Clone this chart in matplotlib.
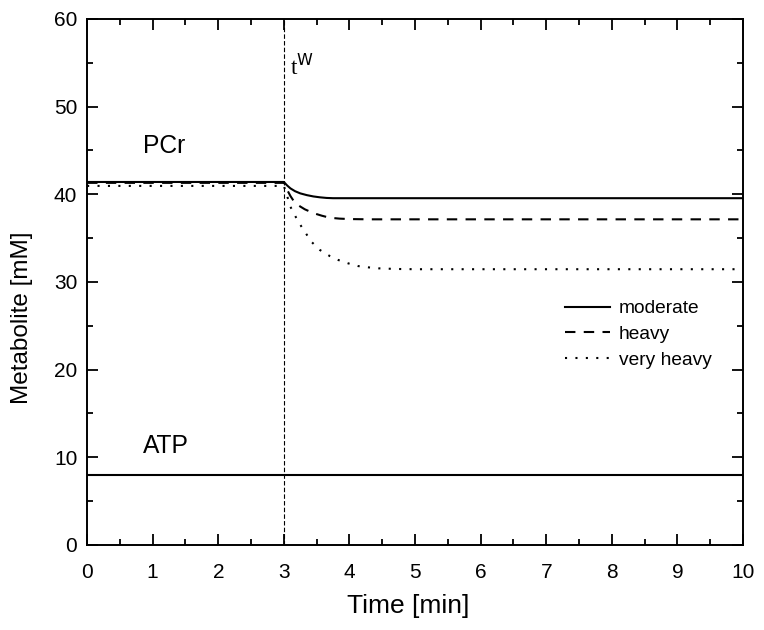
import matplotlib
matplotlib.use("Agg")
import matplotlib.pyplot as plt
from matplotlib.ticker import MultipleLocator

# ---- data ----
t_moderate = [0.0, 3.0, 3.05, 3.10, 3.17, 3.25, 3.35, 3.45, 3.55, 3.65, 3.75, 10.0]
pcr_moderate = [41.4, 41.4, 41.0, 40.67, 40.35, 40.1, 39.9, 39.75, 39.65, 39.58, 39.55, 39.55]

t_heavy = [0.0, 3.0, 3.05, 3.10, 3.17, 3.25, 3.32, 3.45, 3.58, 3.70, 3.85, 4.0, 4.3, 10.0]
pcr_heavy = [41.3, 41.3, 40.5, 39.8, 39.0, 38.6, 38.28, 37.85, 37.55, 37.32, 37.22, 37.17, 37.14, 37.14]

t_very_heavy = [0.0, 3.0, 3.05, 3.10, 3.22, 3.32, 3.42, 3.55, 3.70, 3.83, 3.98, 4.13, 4.29, 4.44, 4.7, 5.0, 10.0]
pcr_very_heavy = [40.95, 40.95, 39.8, 38.57, 36.86, 35.72, 34.58, 33.64, 32.95, 32.5, 32.12, 31.81,
                  31.66, 31.55, 31.48, 31.45, 31.45]

t_atp = [0.0, 10.0]
atp = [8.0, 8.0]

t_switch = 3.0
series_labels = ["moderate", "heavy", "very heavy"]

x_ticks = list(range(0, 11))
y_ticks = list(range(0, 61, 10))

# ---- figure ----
plt.rcParams['font.family'] = ['Liberation Sans', 'DejaVu Sans']
fig = plt.figure(figsize=(7.64, 6.30), dpi=100)
ax = fig.add_axes([0.114, 0.135, 0.8585, 0.835])

lw = 1.5
ax.plot(t_moderate, pcr_moderate, color='black', lw=lw, ls='-', label=series_labels[0])
ax.plot(t_heavy, pcr_heavy, color='black', lw=lw, ls=(0, (5, 4)), label=series_labels[1])
ax.plot(t_very_heavy, pcr_very_heavy, color='black', lw=lw, ls=(0, (1, 4)), label=series_labels[2])
ax.plot(t_atp, atp, color='black', lw=lw, ls='-')
ax.axvline(t_switch, color='black', lw=0.8, ls=(0, (4, 2)))

ax.set_xlim(0, 10)
ax.set_ylim(0, 60)
ax.set_xticks(x_ticks)
ax.set_yticks(y_ticks)
ax.xaxis.set_minor_locator(MultipleLocator(0.5))
ax.yaxis.set_minor_locator(MultipleLocator(5))
ax.tick_params(which='both', direction='in', top=True, right=True, width=1.3, labelsize=15)
ax.tick_params(which='major', length=8)
ax.tick_params(axis='x', which='major', pad=13)
ax.tick_params(axis='y', which='major', pad=7)
ax.tick_params(which='minor', length=4.5)
for s in ax.spines.values():
    s.set_linewidth(1.4)

ax.set_xlabel("Time [min]", fontsize=19)
ax.set_ylabel("Metabolite [mM]", fontsize=17.5)
ax.xaxis.set_label_coords(0.49, -0.093)
ax.yaxis.set_label_coords(-0.082, 0.432)

ax.text(0.85, 45.5, "PCr", fontsize=17.7, va='center', ha='left')
ax.text(0.85, 11.3, "ATP", fontsize=17.7, va='center', ha='left')
ax.text(3.1, 53.6, r"t$^{\mathrm{W}}$", fontsize=16.5, family=['Liberation Serif', 'DejaVu Serif'],
        va='baseline', ha='left')

leg = ax.legend(loc='upper left', bbox_to_anchor=(0.7287, 0.466), frameon=False, fontsize=13.8,
                handlelength=2.35, handletextpad=0.47, labelspacing=0.44, borderaxespad=0,
                borderpad=0)

fig.savefig("out.png", dpi=100)
